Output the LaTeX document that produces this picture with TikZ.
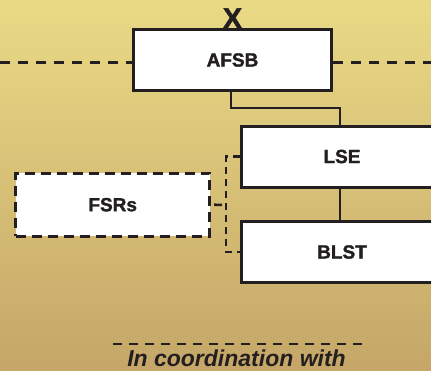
\documentclass[tikz,border=0pt]{standalone}
\usepackage{fontspec}
\setmainfont{Liberation Sans}[BoldFeatures={FakeBold=1.6}]
\definecolor{bgtop}{RGB}{233,218,133}
\definecolor{bgbot}{RGB}{197,166,104}
\definecolor{ink}{RGB}{35,31,32}
\begin{document}
\begin{tikzpicture}[x=1pt,y=-1pt,
  orgbox/.style={draw=ink, line width=3pt, fill=white, text=ink,
    minimum width=198pt, minimum height=61pt, inner sep=0pt,
    font=\fontsize{19}{19}\selectfont\bfseries},
  partner/.style={orgbox, draw=ink, dash pattern=on 10pt off 6pt,
    minimum width=194pt, minimum height=63pt},
  link/.style={draw=ink, line width=2.5pt},
  dotlink/.style={draw=ink, line width=2.6pt, dash pattern=on 7pt off 5pt},
  divider/.style={draw=ink, line width=3pt, dash pattern=on 10pt off 8pt}]
  % page and background gradient
  \useasboundingbox (0,0) rectangle (431,370);
  \clip (0,0) rectangle (431,370);
  \shade[top color=bgtop, bottom color=bgbot] (0,0) rectangle (431,370);

  % boxes
  \node[orgbox] (afsb) at (232.5,60) {AFSB};
  \node[orgbox, minimum width=202pt] (lse) at (342,156.5) {LSE};
  \node[orgbox, minimum width=202pt] (blst) at (342,252) {BLST};
  \node[partner] (fsrs) at (112.7,204.7) {FSRs};
  \node[anchor=south, inner sep=0pt, text=ink,
        font=\fontsize{29}{29}\selectfont\bfseries] (xmark) at ([yshift=-0.5pt]afsb.north) {X};

  % horizontal dashed line through the top box
  \coordinate (ledge) at (0,62);
  \coordinate (redge) at (431,62);
  \draw[divider] (ledge) -- (ledge -| afsb.west);
  \draw[divider] (afsb.east |- redge) -- (redge);

  % solid reporting lines
  \draw[link] ([xshift=-1.5pt]afsb.south) -- ++(0,16) -| ([xshift=-2pt]lse.north);
  \draw[link] ([xshift=-2pt]lse.south) -- ([xshift=-2pt]blst.north);

  % dashed coordination bracket
  \coordinate (brk) at (226,205);
  \draw[dotlink] (lse.west) -- (lse.west -| brk) -- (blst.west -| brk) -- (blst.west);
  \draw[dotlink, dash pattern=on 8pt off 7pt, dash phase=-3pt] (fsrs.east) -- (brk);

  % legend
  \coordinate (lgA) at (113,344);
  \coordinate (lgB) at (362,344);
  \draw[draw=ink, line width=2.4pt, dash pattern=on 9pt off 7pt] (lgA) -- (lgB);
  \node[anchor=base, inner sep=0pt, text=ink,
        font=\fontsize{23}{23}\selectfont\bfseries\itshape] (legend) at (236.5,366) {In coordination with};
\end{tikzpicture}
\end{document}
